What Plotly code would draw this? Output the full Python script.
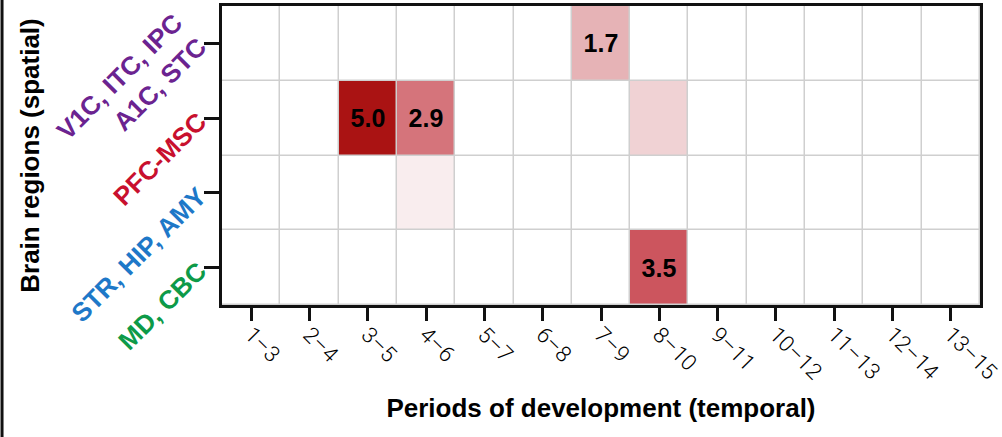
import plotly.graph_objects as go

periods = ["1–3", "2–4", "3–5", "4–6", "5–7", "6–8", "7–9", "8–10", "9–11", "10–12", "11–13", "12–14", "13–15"]
regions = ["V1C, ITC, IPC<br>A1C, STC", "PFC-MSC", "STR, HIP, AMY", "MD, CBC"]
region_colors = ["#6b2390", "#c8102e", "#1e78c8", "#0d9a48"]

# values per region (rows, top to bottom) across periods
row_v1c = [0, 0, 0, 0, 0, 0, 1.7, 0, 0, 0, 0, 0, 0]
row_pfc = [0, 0, 5.0, 2.9, 0, 0, 0, 1.0, 0, 0, 0, 0, 0]
row_str = [0, 0, 0, 0.4, 0, 0, 0, 0, 0, 0, 0, 0, 0]
row_md = [0, 0, 0, 0, 0, 0, 0, 3.5, 0, 0, 0, 0, 0]
labeled = [1.7, 5.0, 2.9, 3.5]

z = [row_v1c, row_pfc, row_str, row_md]
text = [[(f"{v:.1f}" if v in labeled else "") for v in row] for row in z]

fig = go.Figure(go.Heatmap(
    z=z, x=list(range(len(periods))), y=list(range(len(regions))),
    text=text, texttemplate="%{text}",
    textfont=dict(family="Liberation Sans", size=25, color="black", weight="bold"),
    colorscale=[[0, "#ffffff"], [0.34, "#e6b3b6"], [0.7, "#cc555e"], [1, "#aa1313"]],
    zmin=0, zmax=5, showscale=False, xgap=1.5, ygap=1.5, hoverinfo="skip",
))

ytick = [f"<span style='color:{c}'><b>{r}</b></span>" for r, c in zip(regions, region_colors)]

fig.update_layout(
    width=1002, height=437,
    margin=dict(l=222, r=22, t=6, b=132, autoexpand=False),
    paper_bgcolor="white", plot_bgcolor="#cfcfcf",
    font=dict(family="Liberation Sans", color="black"),
    xaxis=dict(
        tickvals=list(range(len(periods))), ticktext=periods, tickangle=45,
        range=[-0.5, len(periods) - 0.5], showgrid=False, zeroline=False,
        ticks="outside", ticklen=13, tickwidth=2.5, tickcolor="#111",
        showline=True, linewidth=3, linecolor="#111", mirror=True,
        ticklabeloverflow="allow", ticklabelstandoff=-8,
        tickfont=dict(size=22, family="Roboto", weight=300),
        title=dict(text="<b>Periods of development (temporal)</b>",
                   font=dict(size=26, family="Liberation Sans"), standoff=16),
    ),
    yaxis=dict(
        tickvals=list(range(len(regions))), ticktext=ytick, tickangle=-45,
        range=[len(regions) - 0.5, -0.5], showgrid=False, zeroline=False,
        ticks="outside", ticklen=15, tickwidth=2.5, tickcolor="#111",
        showline=True, linewidth=3, linecolor="#111", mirror=True,
        tickfont=dict(size=26, family="Liberation Sans"),
        title=dict(text="<b>Brain regions (spatial)</b>", font=dict(size=26), standoff=4),
    ),
)

fig.add_shape(type="line", xref="paper", yref="paper",
              x0=-0.2902, x1=-0.2902, y0=-0.45, y1=1.03,
              line=dict(color="#111", width=3))

fig.write_html("out.html", config={"displayModeBar": False},
               post_script="document.body.style.margin='0';")
